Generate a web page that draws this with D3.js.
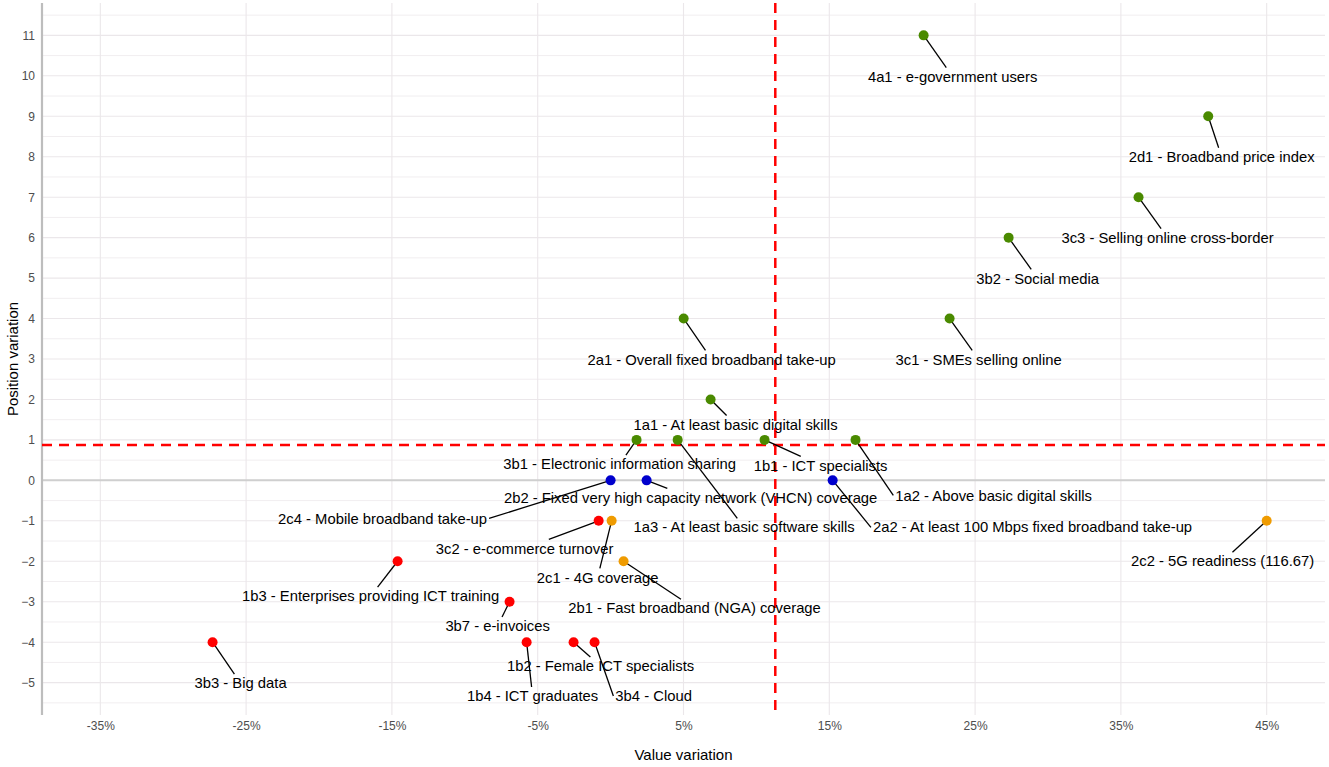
<!DOCTYPE html>
<html>
<head>
<meta charset="utf-8">
<script src="https://cdn.jsdelivr.net/npm/d3@7"></script>
<style>
  body { margin: 0; background: #fff; }
  svg { font-family: "Liberation Sans", Arial, sans-serif; }
</style>
</head>
<body>
<svg></svg>
<script>
// indicators
const codes = ['4a1', '2d1', '3c3', '3b2', '3c1', '2a1', '1a1', '3b1', '1a3', '1b1', '1a2',
  '2c4', '2b2', '2a2', '3c2', '3b3', '1b3', '3b7', '1b4', '1b2', '3b4', '2c1', '2b1', '2c2'];
const names = ['e-government users', 'Broadband price index', 'Selling online cross-border',
  'Social media', 'SMEs selling online', 'Overall fixed broadband take-up',
  'At least basic digital skills', 'Electronic information sharing',
  'At least basic software skills', 'ICT specialists', 'Above basic digital skills',
  'Mobile broadband take-up', 'Fixed very high capacity network (VHCN) coverage',
  'At least 100 Mbps fixed broadband take-up', 'e-commerce turnover', 'Big data',
  'Enterprises providing ICT training', 'e-invoices', 'ICT graduates',
  'Female ICT specialists', 'Cloud', '4G coverage', 'Fast broadband (NGA) coverage',
  '5G readiness (116.67)'];
// value variation in %, position variation in ranks
const valueVar = [21.47, 40.99, 36.21, 27.30, 23.25, 5.01, 6.86, 1.78, 4.60, 10.56, 16.80,
  0.00, 2.47, 15.23, -0.82, -27.30, -14.61, -6.93, -5.76, -2.54, -1.10, 0.07, 0.89, 116.67];
const positionVar = [11, 9, 7, 6, 4, 4, 2, 1, 1, 1, 1,
  0, 0, 0, -1, -4, -2, -3, -4, -4, -4, -1, -2, -1];
// repelled label centres, in data units
const labelX = [23.46, 41.91, 38.20, 29.29, 25.24, 6.93, 8.57, 0.62, 9.16, 14.40, 26.27,
  -15.64, 5.49, 28.94, -5.90, -25.38, -16.46, -7.75, -5.35, -0.69, 2.95, -0.89, 5.76, 41.98];
const labelY = [9.98, 8.0, 6.0, 4.99, 2.99, 2.99, 1.38, 0.40, -1.16, 0.37, -0.37,
  -0.94, -0.42, -1.16, -1.68, -5.01, -2.86, -3.60, -5.33, -4.59, -5.33, -2.40, -3.16, -2.0];
const xTicks = [-35, -25, -15, -5, 5, 15, 25, 35, 45];
const yTicks = d3.range(-5, 12);
const xCap = 45;

const width = 1329, height = 767;
const svg = d3.select('svg').attr('width', width).attr('height', height);

const xPad = (45 - -35) * 0.05, yPad = (11 - -5) * 0.05;
const x = d3.scaleLinear().domain([-35 - xPad, 45 + xPad]).range([42, 1325]);
const y = d3.scaleLinear().domain([-5 - yPad, 11 + yPad]).range([715, 3]);

const data = codes.map((c, i) => ({
  label: c + ' - ' + names[i],
  value: valueVar[i],
  pos: positionVar[i],
  lx: labelX[i],
  ly: labelY[i]
}));

const getColor = d => d.pos > 0 ? '#4a8a00' : d.pos === 0 ? '#0000cd' : d.value < 0 ? '#ff0000' : '#ef9b00';

// GRID
const grid = svg.append('g');
grid.selectAll('.minor')
  .data(d3.range(-5.5, 11.6, 1))
  .enter().append('line')
  .attr('x1', 42).attr('x2', 1325)
  .attr('y1', d => y(d)).attr('y2', d => y(d))
  .attr('stroke', '#f1eef0').attr('stroke-width', 1);
grid.selectAll('.majorY')
  .data(yTicks)
  .enter().append('line')
  .attr('x1', 42).attr('x2', 1325)
  .attr('y1', d => y(d)).attr('y2', d => y(d))
  .attr('stroke', '#ebe7ea').attr('stroke-width', 1.1);
grid.selectAll('.majorX')
  .data(xTicks)
  .enter().append('line')
  .attr('x1', d => x(d)).attr('x2', d => x(d))
  .attr('y1', 3).attr('y2', 715)
  .attr('stroke', '#ebe7ea').attr('stroke-width', 1.1);

// zero line and left axis
svg.append('line')
  .attr('x1', 42).attr('x2', 1325)
  .attr('y1', y(0)).attr('y2', y(0))
  .attr('stroke', '#cfcfcf').attr('stroke-width', 2);
svg.append('line')
  .attr('x1', 42).attr('x2', 42)
  .attr('y1', 3).attr('y2', 715)
  .attr('stroke', '#bdbdbd').attr('stroke-width', 2.2);

// AXES
const xAxis = svg.append('g')
  .attr('transform', 'translate(0,715)')
  .call(d3.axisBottom(x).tickValues(xTicks).tickFormat(d => d + '%').tickSize(0).tickPadding(6));
const yAxis = svg.append('g')
  .attr('transform', 'translate(42,0)')
  .call(d3.axisLeft(y).tickValues(yTicks).tickSize(0).tickPadding(7));
[xAxis, yAxis].forEach(a => {
  a.select('.domain').remove();
  a.selectAll('text')
    .attr('fill', '#4d4d4d')
    .style('font-size', '12px')
    .style('font-family', '"Liberation Sans", Arial, sans-serif');
});

svg.append('text')
  .attr('x', (42 + 1325) / 2).attr('y', 760)
  .attr('text-anchor', 'middle')
  .attr('font-size', 15)
  .text('Value variation');
svg.append('text')
  .attr('transform', 'translate(18,' + (3 + 715) / 2 + ') rotate(-90)')
  .attr('text-anchor', 'middle')
  .attr('font-size', 15)
  .text('Position variation');

// MEAN LINES
const meanX = d3.mean(valueVar), meanY = d3.mean(positionVar);
svg.append('line')
  .attr('x1', x(meanX)).attr('x2', x(meanX))
  .attr('y1', 3).attr('y2', 715)
  .attr('stroke', '#ff0000').attr('stroke-width', 2.5)
  .attr('stroke-dasharray', '10,7');
svg.append('line')
  .attr('x1', 42).attr('x2', 1325)
  .attr('y1', y(meanY)).attr('y2', y(meanY))
  .attr('stroke', '#ff0000').attr('stroke-width', 2.5)
  .attr('stroke-dasharray', '10,7');

const px = d => x(Math.min(d.value, xCap));
const py = d => y(d.pos);

// LABELS (measured first, segments and points drawn beneath)
const segGroup = svg.append('g');
const pointGroup = svg.append('g');
const textGroup = svg.append('g');

const textElements = textGroup.selectAll('text')
  .data(data)
  .enter().append('text')
  .attr('x', d => x(d.lx))
  .attr('y', d => y(d.ly))
  .attr('dy', '0.35em')
  .attr('text-anchor', 'middle')
  .attr('font-size', 14.8)
  .attr('fill', '#000')
  .text(d => d.label);

textElements.each(function (d) {
  const w = this.getComputedTextLength();
  const cx = x(d.lx), cy = y(d.ly);
  const box = { x1: cx - w / 2 - 2, x2: cx + w / 2 + 2, y1: cy - 9, y2: cy + 9 };
  const sx = px(d), sy = py(d);
  let ex, ey;
  if (sx < box.x1) { ex = box.x1; ey = cy; }
  else if (sx > box.x2) { ex = box.x2; ey = cy; }
  else {
    ey = sy < box.y1 ? box.y1 : box.y2;
    ex = sx + (cx - sx) * (ey - sy) / (cy - sy);
  }
  d.ex = ex; d.ey = ey;
});

segGroup.selectAll('line')
  .data(data)
  .enter().append('line')
  .attr('x1', px).attr('y1', py)
  .attr('x2', d => d.ex).attr('y2', d => d.ey)
  .attr('stroke', '#000').attr('stroke-width', 1.3);

pointGroup.selectAll('circle')
  .data(data)
  .enter().append('circle')
  .attr('cx', px).attr('cy', py)
  .attr('r', 5)
  .attr('fill', getColor);
</script>
</body>
</html>
